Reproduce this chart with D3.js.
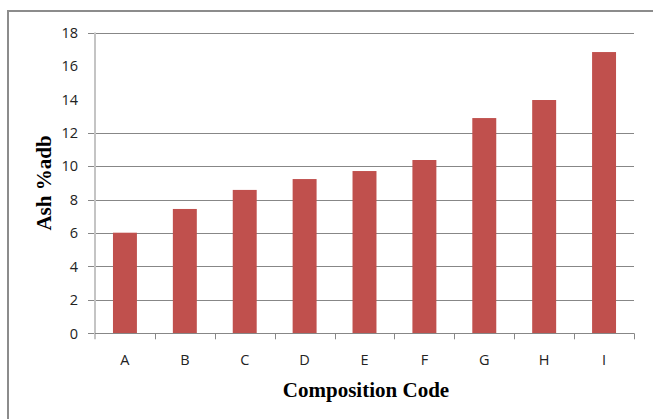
<!DOCTYPE html>
<html>
<head>
<meta charset="utf-8">
<script src="https://cdn.jsdelivr.net/npm/d3@7/dist/d3.min.js"></script>
<style>
  html, body { margin: 0; padding: 0; background: #fff; }
  svg { display: block; }
</style>
</head>
<body>
<svg id="chart" width="653" height="419"></svg>
<script>
// Ash content (% air-dried basis) per composition
const categories = ["A", "B", "C", "D", "E", "F", "G", "H", "I"];
const ashValues = [6.02, 7.44, 8.58, 9.23, 9.71, 10.37, 12.88, 13.96, 16.83];
const yTicks = [0, 2, 4, 6, 8, 10, 12, 14, 16, 18];
const gridValues = [0, 2, 4, 6, 8, 10, 12, 18];

const svg = d3.select("#chart");
const W = 653, H = 419;
const plot = { left: 95, right: 634, top: 32.5, bottom: 333.3 };

// outer chart frame
svg.append("rect")
  .attr("x", 8).attr("y", 11)
  .attr("width", W + 10).attr("height", H + 10)
  .attr("fill", "none")
  .attr("stroke", "#8c8c8c")
  .attr("stroke-width", 2);

const x = d3.scaleBand()
  .domain(categories)
  .range([plot.left, plot.right])
  .paddingInner(0.6)
  .paddingOuter(0.3);

const xBand = d3.scaleBand()
  .domain(categories)
  .range([plot.left, plot.right]);

const y = d3.scaleLinear()
  .domain([0, 18])
  .range([plot.bottom, plot.top]);

// horizontal gridlines with small ticks out to the left
svg.append("g")
  .selectAll("line")
  .data(gridValues)
  .join("line")
  .attr("x1", plot.left - 7)
  .attr("x2", plot.right)
  .attr("y1", d => Math.round(y(d)) + 0.5)
  .attr("y2", d => Math.round(y(d)) + 0.5)
  .attr("stroke", "#878787")
  .attr("stroke-width", 1);

// bars
svg.append("g")
  .selectAll("rect")
  .data(ashValues)
  .join("rect")
  .attr("x", (d, i) => x(categories[i]))
  .attr("width", x.bandwidth())
  .attr("y", d => y(d))
  .attr("height", d => y(0) - y(d))
  .attr("fill", "#c0504d");

// y axis line
svg.append("line")
  .attr("x1", plot.left).attr("x2", plot.left)
  .attr("y1", plot.top).attr("y2", plot.bottom + 6)
  .attr("stroke", "#c4c4c4")
  .attr("stroke-width", 2);

// x axis baseline and category boundary ticks
svg.append("line")
  .attr("x1", plot.left).attr("x2", plot.right)
  .attr("y1", Math.round(y(0)) + 0.5).attr("y2", Math.round(y(0)) + 0.5)
  .attr("stroke", "#878787");

const boundaries = categories.map(c => xBand(c)).concat([plot.right]).slice(1);
svg.append("g")
  .selectAll("line")
  .data(boundaries)
  .join("line")
  .attr("x1", d => Math.round(d) + 0.5)
  .attr("x2", d => Math.round(d) + 0.5)
  .attr("y1", plot.bottom)
  .attr("y2", plot.bottom + 6)
  .attr("stroke", "#878787");

// y tick labels
svg.append("g")
  .selectAll("text")
  .data(yTicks)
  .join("text")
  .attr("x", 78)
  .attr("y", d => y(d))
  .attr("dy", "0.36em")
  .attr("text-anchor", "end")
  .attr("font-family", "'Open Sans', sans-serif")
  .attr("font-size", 14.5)
  .attr("fill", "#222")
  .text(d => d);

// x category labels
svg.append("g")
  .selectAll("text")
  .data(categories)
  .join("text")
  .attr("x", d => xBand(d) + xBand.bandwidth() / 2)
  .attr("y", 365)
  .attr("text-anchor", "middle")
  .attr("font-family", "'Open Sans', sans-serif")
  .attr("font-size", 14.5)
  .attr("fill", "#222")
  .text(d => d);

// axis titles
svg.append("text")
  .attr("x", 366)
  .attr("y", 397)
  .attr("text-anchor", "middle")
  .attr("font-family", "'Liberation Serif', 'Times New Roman', serif")
  .attr("font-weight", "bold")
  .attr("font-size", 21)
  .attr("fill", "#000")
  .text("Composition Code");

svg.append("text")
  .attr("transform", "translate(51,183) rotate(-90)")
  .attr("text-anchor", "middle")
  .attr("font-family", "'Liberation Serif', 'Times New Roman', serif")
  .attr("font-weight", "bold")
  .attr("font-size", 21)
  .attr("fill", "#000")
  .text("Ash %adb");
</script>
</body>
</html>
